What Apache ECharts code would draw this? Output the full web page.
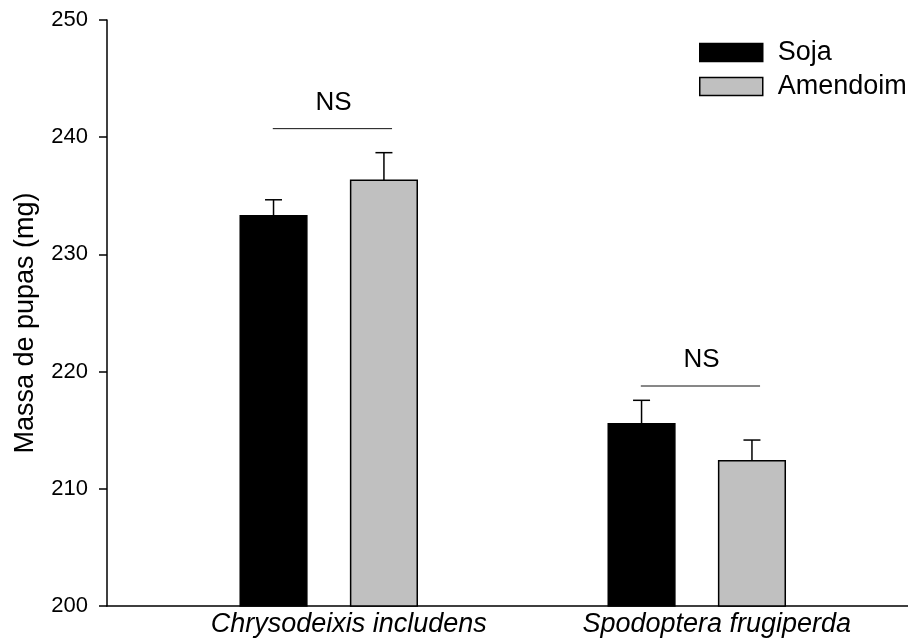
<!DOCTYPE html>
<html>
<head>
<meta charset="utf-8">
<script src="https://cdn.jsdelivr.net/npm/echarts@6/dist/echarts.min.js"></script>
<style>
html,body{margin:0;padding:0;background:#fff;}
#chart{width:908px;height:641px;}
</style>
</head>
<body>
<div id="chart"></div>
<script>
var categories = ['Chrysodeixis includens', 'Spodoptera frugiperda'];
var sojaValues = [233.3, 215.55];
var sojaErrors = [1.36, 2.0];
var amendoimValues = [236.33, 212.4];
var amendoimErrors = [2.35, 1.76];
var nsLevels = [240.73, 218.77];
var nsLabels = ['NS', 'NS'];
var yTicks = [200, 210, 220, 230, 240, 250];

var FONT = '"Liberation Sans", Arial, sans-serif';
var BAR_OFFSET = 0.15;
var BAR_WIDTH = 0.181;

function barRenderer(offset, fill) {
  return function (params, api) {
    var xi = api.value(0), v = api.value(1), e = api.value(2);
    var c = api.coord([xi + offset, v]);
    var base = api.coord([xi + offset, 200]);
    var errTop = api.coord([xi + offset, v + e]);
    var w = api.size([BAR_WIDTH, 0])[0];
    return {
      type: 'group',
      children: [
        { type: 'line', shape: { x1: c[0], y1: c[1], x2: c[0], y2: errTop[1] },
          style: { stroke: '#000', lineWidth: 1.5 } },
        { type: 'line', shape: { x1: c[0] - 8.5, y1: errTop[1], x2: c[0] + 8.5, y2: errTop[1] },
          style: { stroke: '#000', lineWidth: 1.5 } },
        { type: 'rect', shape: { x: c[0] - w / 2, y: c[1], width: w, height: base[1] - c[1] },
          style: { fill: fill, stroke: '#000', lineWidth: 1.5 } }
      ]
    };
  };
}

function nsRenderer(params, api) {
  var xi = api.value(0), lv = api.value(1);
  var a = api.coord([xi - 0.152, lv]);
  var b = api.coord([xi + 0.172, lv]);
  var t = api.coord([xi + 0.013, lv]);
  return {
    type: 'group',
    children: [
      { type: 'line', shape: { x1: a[0], y1: a[1], x2: b[0], y2: b[1] },
        style: { stroke: '#111', lineWidth: 1 } },
      { type: 'text', style: { x: t[0], y: t[1] - 26, text: nsLabels[params.dataIndex],
        fill: '#000', font: '26px ' + FONT, textAlign: 'center', textVerticalAlign: 'middle' } }
    ]
  };
}

var chart = echarts.init(document.getElementById('chart'));
chart.setOption({
  backgroundColor: '#fff',
  animation: false,
  textStyle: { fontFamily: FONT },
  grid: { left: 107, top: 20, right: 0, bottom: 35, containLabel: false },
  legend: {
    orient: 'vertical',
    left: 699,
    top: 39,
    padding: 0,
    itemWidth: 63,
    itemHeight: 18,
    itemGap: 7,
    textStyle: { fontSize: 27, color: '#000', fontFamily: FONT, padding: [0, 0, 0, 10] },
    data: [
      { name: 'Soja', icon: 'rect', itemStyle: { color: '#000', borderColor: '#000', borderWidth: 1.5 } },
      { name: 'Amendoim', icon: 'rect', itemStyle: { color: '#c0c0c0', borderColor: '#000', borderWidth: 1.5 } }
    ]
  },
  xAxis: {
    type: 'value',
    min: -0.6025,
    max: 1.574,
    splitLine: { show: false },
    axisLine: { show: true, onZero: false, lineStyle: { color: '#000', width: 1.5 } },
    axisTick: { show: false },
    axisLabel: {
      customValues: [0, 1],
      formatter: function (v) { return categories[Math.round(v)]; },
      fontSize: 27,
      fontStyle: 'italic',
      color: '#000',
      fontFamily: FONT,
      margin: 5,
      padding: [0, 0, 0, 40]
    }
  },
  yAxis: {
    type: 'value',
    min: yTicks[0],
    max: yTicks[yTicks.length - 1],
    interval: 10,
    name: 'Massa de pupas (mg)',
    nameLocation: 'middle',
    nameGap: 68,
    nameTextStyle: { fontSize: 27, color: '#000', fontFamily: FONT, padding: [0, 0, 0, -20] },
    splitLine: { show: false },
    axisLine: { show: true, onZero: false, lineStyle: { color: '#000', width: 1.5 } },
    axisTick: { show: true, inside: false, length: 8, lineStyle: { color: '#000', width: 1.5 } },
    axisLabel: { fontSize: 22, color: '#000', fontFamily: FONT, margin: 19 }
  },
  series: [
    {
      name: 'Soja', type: 'custom',
      itemStyle: { color: '#000' },
      renderItem: barRenderer(-BAR_OFFSET, '#000'),
      encode: { x: 0, y: 1 },
      data: sojaValues.map(function (v, i) { return [i, v, sojaErrors[i]]; })
    },
    {
      name: 'Amendoim', type: 'custom',
      itemStyle: { color: '#c0c0c0' },
      renderItem: barRenderer(BAR_OFFSET, '#c0c0c0'),
      encode: { x: 0, y: 1 },
      data: amendoimValues.map(function (v, i) { return [i, v, amendoimErrors[i]]; })
    },
    {
      name: 'ns', type: 'custom',
      renderItem: nsRenderer,
      encode: { x: 0, y: 1 },
      data: nsLevels.map(function (v, i) { return [i, v]; })
    }
  ]
});
</script>
</body>
</html>
